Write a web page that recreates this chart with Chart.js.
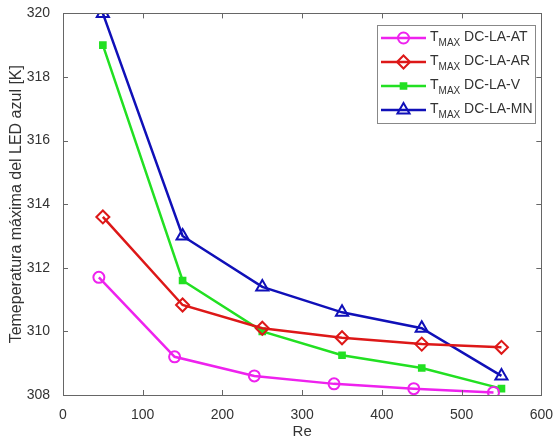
<!DOCTYPE html>
<html>
<head>
<meta charset="utf-8">
<script src="https://cdn.jsdelivr.net/npm/chart.js@4/dist/chart.umd.min.js"></script>
<style>
html,body{margin:0;padding:0;background:#fff;}
#wrap{width:557px;height:443px;position:relative;}
</style>
</head>
<body>
<div id="wrap"><canvas id="c" width="557" height="443"></canvas></div>
<script>
// ---- data ----
const reAT = [45, 140, 240, 340, 440, 540];
const tAT  = [311.7, 309.2, 308.6, 308.35, 308.2, 308.08];
const reAR = [50, 150, 250, 350, 450, 550];
const tAR  = [313.6, 310.83, 310.1, 309.8, 309.6, 309.5];
const reV  = [50, 150, 250, 350, 450, 550];
const tV   = [319.0, 311.6, 310.0, 309.25, 308.85, 308.2];
const reMN = [50, 150, 250, 350, 450, 550];
const tMN  = [320.0, 313.0, 311.4, 310.6, 310.1, 308.6];
const seriesNames = ['DC-LA-AT', 'DC-LA-AR', 'DC-LA-V', 'DC-LA-MN'];
const seriesMain = 'T';
const seriesSub = 'MAX';
const xTicks = [0, 100, 200, 300, 400, 500, 600];
const yTicks = [308, 310, 312, 314, 316, 318, 320];
const xTitle = 'Re';
const yTitle = 'Temeperatura máxima del LED azul [K]';

const FONT = '"Liberation Sans", Arial, Helvetica, sans-serif';
const pts = (xs, ys) => xs.map((x, i) => ({x: x, y: ys[i]}));

const styles = [
  {color: '#ee22ee', point: 'circle', radius: 5.5, fill: false},
  {color: '#dd1818', point: 'rectRot', radius: 6.5, fill: false},
  {color: '#22e022', point: 'rect', radius: 4, fill: true},
  {color: '#1010b8', point: 'triangle', radius: 7, fill: false}
];
const dataArr = [pts(reAT, tAT), pts(reAR, tAR), pts(reV, tV), pts(reMN, tMN)];

const datasets = dataArr.map((d, i) => ({
  label: seriesMain + seriesSub + ' ' + seriesNames[i],
  data: d,
  borderColor: styles[i].color,
  backgroundColor: styles[i].fill ? styles[i].color : 'rgba(255,255,255,0)',
  pointStyle: styles[i].point,
  pointRadius: styles[i].radius,
  pointBorderWidth: 2,
  pointBorderColor: styles[i].color,
  pointBackgroundColor: styles[i].fill ? styles[i].color : 'rgba(255,255,255,0)',
  borderWidth: 2.5,
  tension: 0,
  fill: false
}));

const AXC = '#666666';
const TXC = '#333333';

const boxPlugin = {
  id: 'boxPlugin',
  afterDatasetsDraw(chart) {
    const {ctx, chartArea: a, scales: {x, y}} = chart;
    ctx.save();
    ctx.strokeStyle = AXC;
    ctx.lineWidth = 1;
    ctx.strokeRect(Math.round(a.left) + 0.5, Math.round(a.top) + 0.5, Math.round(a.right - a.left), Math.round(a.bottom - a.top));
    const tl = 5;
    ctx.beginPath();
    xTicks.forEach(v => {
      const px = Math.round(x.getPixelForValue(v)) + 0.5;
      ctx.moveTo(px, a.bottom); ctx.lineTo(px, a.bottom - tl);
      ctx.moveTo(px, a.top); ctx.lineTo(px, a.top + tl);
    });
    yTicks.forEach(v => {
      const py = Math.round(y.getPixelForValue(v)) + 0.5;
      ctx.moveTo(a.left, py); ctx.lineTo(a.left + tl, py);
      ctx.moveTo(a.right, py); ctx.lineTo(a.right - tl, py);
    });
    ctx.stroke();

    // legend
    const lx = 377, ly = 25, lw = 158, lh = 98;
    ctx.fillStyle = '#fff';
    ctx.fillRect(lx, ly, lw, lh);
    ctx.strokeStyle = '#888';
    ctx.strokeRect(lx + 0.5, ly + 0.5, lw, lh);
    chart.data.datasets.forEach((ds, i) => {
      const cy = 38 + i * 24;
      ctx.strokeStyle = ds.borderColor;
      ctx.lineWidth = 2.5;
      ctx.beginPath(); ctx.moveTo(381, cy); ctx.lineTo(426, cy); ctx.stroke();
      ctx.lineWidth = 2;
      ctx.fillStyle = ds.pointBackgroundColor;
      ctx.strokeStyle = ds.borderColor;
      Chart.helpers.drawPoint(ctx, {
        pointStyle: ds.pointStyle, radius: ds.pointRadius, borderWidth: 2, rotation: 0
      }, 403.5, cy);
      ctx.fillStyle = TXC;
      ctx.textBaseline = 'alphabetic';
      ctx.textAlign = 'left';
      ctx.font = '14px ' + FONT;
      ctx.fillText(seriesMain, 430, cy + 3);
      const w1 = ctx.measureText(seriesMain).width;
      ctx.font = '10px ' + FONT;
      ctx.fillText(seriesSub, 430 + w1, cy + 8);
      const w2 = ctx.measureText(seriesSub).width;
      ctx.font = '14px ' + FONT;
      ctx.fillText(' ' + seriesNames[i], 430 + w1 + w2, cy + 3);
    });
    ctx.restore();
  }
};

new Chart(document.getElementById('c'), {
  type: 'line',
  data: {datasets: datasets},
  options: {
    responsive: false,
    animation: false,
    layout: {padding: {top: 13, right: 12, left: 0, bottom: 0}},
    plugins: {legend: {display: false}, tooltip: {enabled: false}},
    scales: {
      x: {
        type: 'linear', min: 0, max: 600,
        afterFit(s) { s.height = 48; },
        afterBuildTicks(s) { s.ticks = xTicks.map(v => ({value: v})); },
        grid: {display: false},
        border: {display: false},
        ticks: {color: TXC, font: {family: FONT, size: 14}, padding: 4, maxRotation: 0},
        title: {display: true, text: xTitle, color: TXC, font: {family: FONT, size: 15}, padding: {top: 0, bottom: 2}}
      },
      y: {
        type: 'linear', min: 308, max: 320,
        afterFit(s) { s.width = 63; },
        afterBuildTicks(s) { s.ticks = yTicks.map(v => ({value: v})); },
        grid: {display: false},
        border: {display: false},
        ticks: {color: TXC, font: {family: FONT, size: 14}, padding: 5},
        title: {display: true, text: yTitle, color: TXC, font: {family: FONT, size: 16}, padding: {top: 7, bottom: 0}}
      }
    }
  },
  plugins: [boxPlugin]
});
</script>
</body>
</html>
